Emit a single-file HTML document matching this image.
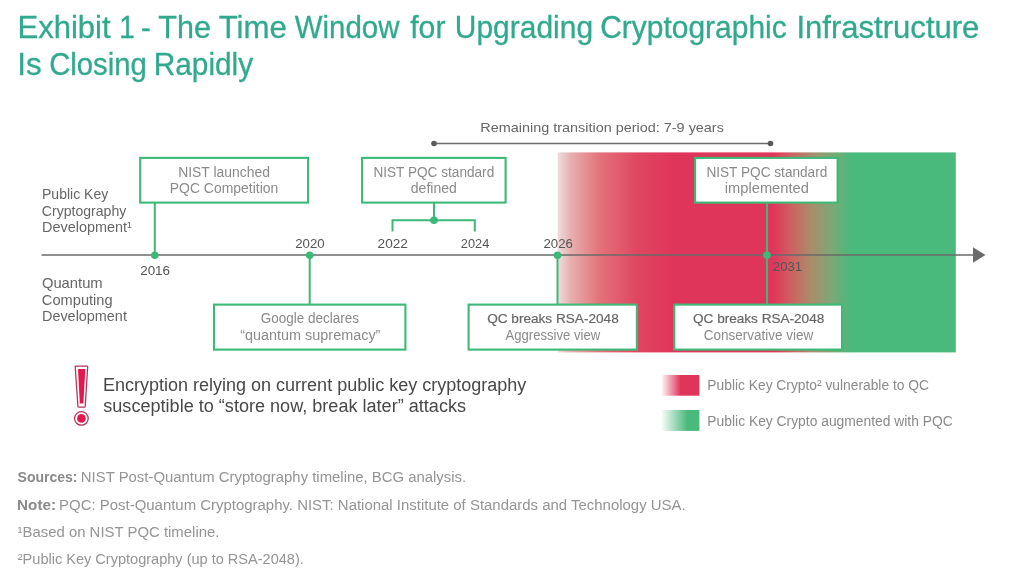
<!DOCTYPE html>
<html lang="en">
<head>
<meta charset="utf-8">
<title>Exhibit 1 - The Time Window for Upgrading Cryptographic Infrastructure Is Closing Rapidly</title>
<style>
html,body{margin:0;padding:0;background:#fff;}
body{width:1024px;height:582px;overflow:hidden;font-family:"Liberation Sans",sans-serif;}
svg{display:block;}
text{font-family:"Liberation Sans",sans-serif;}
.t{font-size:31.2px;fill:#30A98C;stroke:#30A98C;stroke-width:.3px;}
.l{font-size:13.8px;fill:#8a8a8a;}
.m{font-size:14.4px;fill:#666;}
.m2{font-size:13.6px;fill:#666;}
.y{font-size:13.3px;fill:#555;}
.b{font-size:13.6px;fill:#666;stroke:#666;stroke-width:.2px;}
.e{font-size:18px;fill:#484848;}
.f{font-size:14.7px;fill:#949494;}
.fb{font-weight:bold;fill:#8a8a8a;}

</style>
</head>
<body>
<svg width="1024" height="582" viewBox="0 0 1024 582">
<defs>
<linearGradient id="band" x1="0" y1="0" x2="1" y2="0">
<stop offset="0" stop-color="#ECDEDE"/>
<stop offset="0.032" stop-color="#E8B0B0"/>
<stop offset="0.107" stop-color="#E27279"/>
<stop offset="0.2" stop-color="#E04661"/>
<stop offset="0.29" stop-color="#E0355A"/>
<stop offset="0.541" stop-color="#E0355A"/>
<stop offset="0.59" stop-color="#CC6462"/>
<stop offset="0.639" stop-color="#A88E6C"/>
<stop offset="0.688" stop-color="#7CA876"/>
<stop offset="0.737" stop-color="#4AB97C"/>
<stop offset="1" stop-color="#4AB97C"/>
</linearGradient>
<linearGradient id="lr" x1="0" y1="0" x2="1" y2="0">
<stop offset="0" stop-color="#E0355A" stop-opacity="0.05"/>
<stop offset="0.5" stop-color="#E0355A"/>
<stop offset="1" stop-color="#E0355A"/>
</linearGradient>
<linearGradient id="lg" x1="0" y1="0" x2="1" y2="0">
<stop offset="0" stop-color="#4AB97C" stop-opacity="0.05"/>
<stop offset="0.68" stop-color="#4AB97C"/>
<stop offset="1" stop-color="#4AB97C"/>
</linearGradient>
</defs>

<!-- gradient band -->
<rect x="557.7" y="152.4" width="398.1" height="200" fill="url(#band)"/>

<!-- transition period -->
<line x1="434" y1="143.5" x2="770.5" y2="143.5" stroke="#6b6b6b" stroke-width="1.5"/>
<circle cx="434" cy="143.5" r="2.8" fill="#5a5a5a"/>
<circle cx="770.5" cy="143.5" r="2.8" fill="#5a5a5a"/>

<!-- axis -->
<line x1="41.5" y1="255" x2="975" y2="255" stroke="#6a6a6a" stroke-width="1.4"/>
<polygon points="973,247.3 985.5,255 973,262.7" fill="#6a6a6a"/>

<!-- connectors -->
<g stroke="#3DB877" stroke-width="2" fill="none">
<line x1="154.8" y1="202.5" x2="154.8" y2="255"/>
<line x1="309.7" y1="255" x2="309.7" y2="305"/>
<line x1="434" y1="202" x2="434" y2="220.3"/>
<polyline points="392.5,231.5 392.5,220.3 474.8,220.3 474.8,231.5"/>
<line x1="557.5" y1="255" x2="557.5" y2="305"/>
<line x1="767" y1="202" x2="767" y2="305"/>
</g>
<g fill="#3DB877">
<circle cx="154.8" cy="255.3" r="3.8"/>
<circle cx="309.7" cy="255.3" r="3.8"/>
<circle cx="434" cy="220.3" r="3.8"/>
<circle cx="557.5" cy="255.3" r="3.8"/>
<circle cx="767" cy="255.3" r="3.8"/>
</g>

<!-- boxes -->
<g fill="#fff" stroke="#3DB877" stroke-width="2.1">
<rect x="140.2" y="157.9" width="167.9" height="44.7"/>
<rect x="362.1" y="157.9" width="143.5" height="44.7"/>
<rect x="695.1" y="157.9" width="142.5" height="44.7"/>
<rect x="214" y="304.6" width="191.4" height="45"/>
<rect x="468.6" y="304.6" width="168.3" height="45"/>
<rect x="674.3" y="304.6" width="167.7" height="45"/>
</g>

<!-- warning icon -->
<g>
<path d="M75.2,366.7 Q75.2,366 75.9,366 L87,366 Q87.7,366 87.7,366.7 L85.2,406.4 Q85.1,407.2 84.3,407.2 L78.8,407.2 Q78,407.2 77.9,406.4 Z" fill="#fff" stroke="#B23358" stroke-width="1.25"/>
<path d="M78,369 L85.3,369 L83.4,403.6 L79.8,403.6 Z" fill="#E5174F"/>
<circle cx="81.4" cy="418.4" r="6.8" fill="#fff" stroke="#B23358" stroke-width="1.25"/>
<circle cx="81.4" cy="418.4" r="4.3" fill="#E5174F"/>
</g>

<!-- legend -->
<rect x="661.8" y="375" width="37.6" height="20.7" fill="url(#lr)"/>
<rect x="661.8" y="410" width="37.6" height="20.9" fill="url(#lg)"/>

<!-- text -->
<text class="t" y="37.7"><tspan x="17.55" textLength="93.05" lengthAdjust="spacingAndGlyphs">Exhibit</tspan> <tspan x="119.20" textLength="15.62" lengthAdjust="spacingAndGlyphs">1</tspan> <tspan x="140.93" textLength="9.78" lengthAdjust="spacingAndGlyphs">-</tspan> <tspan x="158.24" textLength="52.66" lengthAdjust="spacingAndGlyphs">The</tspan> <tspan x="218.63" textLength="68.22" lengthAdjust="spacingAndGlyphs">Time</tspan> <tspan x="294.74" textLength="104.73" lengthAdjust="spacingAndGlyphs">Window</tspan> <tspan x="410.24" textLength="35.23" lengthAdjust="spacingAndGlyphs">for</tspan> <tspan x="454.84" textLength="138.22" lengthAdjust="spacingAndGlyphs">Upgrading</tspan> <tspan x="600.22" textLength="186.47" lengthAdjust="spacingAndGlyphs">Cryptographic</tspan> <tspan x="796.48" textLength="182.92" lengthAdjust="spacingAndGlyphs">Infrastructure</tspan></text>
<text class="t" y="74.6"><tspan x="17.25" textLength="24.45" lengthAdjust="spacingAndGlyphs">Is</tspan> <tspan x="49.15" textLength="97.62" lengthAdjust="spacingAndGlyphs">Closing</tspan> <tspan x="153.75" textLength="99.35" lengthAdjust="spacingAndGlyphs">Rapidly</tspan></text>
<text class="m2" x="480.35" y="132" textLength="243.54" lengthAdjust="spacingAndGlyphs">Remaining transition period: 7-9 years</text>
<text class="l" x="178.17" y="176.9" textLength="91.86" lengthAdjust="spacingAndGlyphs">NIST launched</text>
<text class="l" x="169.77" y="192.8" textLength="108.51" lengthAdjust="spacingAndGlyphs">PQC Competition</text>
<text class="l" x="373.38" y="176.9" textLength="120.85" lengthAdjust="spacingAndGlyphs">NIST PQC standard</text>
<text class="l" x="410.81" y="192.8" textLength="46.07" lengthAdjust="spacingAndGlyphs">defined</text>
<text class="l" x="706.38" y="176.9" textLength="120.95" lengthAdjust="spacingAndGlyphs">NIST PQC standard</text>
<text class="l" x="724.87" y="192.8" textLength="83.96" lengthAdjust="spacingAndGlyphs">implemented</text>
<text class="l" x="260.81" y="323.4" textLength="98.22" lengthAdjust="spacingAndGlyphs">Google declares</text>
<text class="l" x="240.20" y="340" textLength="140.21" lengthAdjust="spacingAndGlyphs">“quantum supremacy”</text>
<text class="b" x="487.15" y="323" textLength="131.60" lengthAdjust="spacingAndGlyphs">QC breaks RSA-2048</text>
<text class="l" x="505.59" y="339.6" textLength="94.56" lengthAdjust="spacingAndGlyphs">Aggressive view</text>
<text class="b" x="693.05" y="323" textLength="131.19" lengthAdjust="spacingAndGlyphs">QC breaks RSA-2048</text>
<text class="l" x="703.70" y="339.6" textLength="109.58" lengthAdjust="spacingAndGlyphs">Conservative view</text>
<text class="m" x="42.03" y="199" textLength="66.22" lengthAdjust="spacingAndGlyphs">Public Key</text>
<text class="m" x="41.87" y="215.5" textLength="84.43" lengthAdjust="spacingAndGlyphs">Cryptography</text>
<text class="m" x="42.01" y="232" textLength="89.84" lengthAdjust="spacingAndGlyphs">Development¹</text>
<text class="m" x="41.91" y="287.6" textLength="60.78" lengthAdjust="spacingAndGlyphs">Quantum</text>
<text class="m" x="41.86" y="304.6" textLength="70.75" lengthAdjust="spacingAndGlyphs">Computing</text>
<text class="m" x="42.01" y="320.7" textLength="84.89" lengthAdjust="spacingAndGlyphs">Development</text>
<text class="y" x="140.17" y="275.3" textLength="29.95" lengthAdjust="spacingAndGlyphs">2016</text>
<text class="y" x="295.27" y="247.5" textLength="29.41" lengthAdjust="spacingAndGlyphs">2020</text>
<text class="y" x="377.56" y="247.5" textLength="30.37" lengthAdjust="spacingAndGlyphs">2022</text>
<text class="y" x="460.87" y="247.5" textLength="28.53" lengthAdjust="spacingAndGlyphs">2024</text>
<text class="y" x="543.47" y="247.5" textLength="29.35" lengthAdjust="spacingAndGlyphs">2026</text>
<text class="y" x="772.87" y="271" textLength="29.23" lengthAdjust="spacingAndGlyphs">2031</text>
<text class="e" x="103.00" y="391.2" textLength="423.25" lengthAdjust="spacingAndGlyphs">Encryption relying on current public key cryptography</text>
<text class="e" x="103.27" y="412.1" textLength="362.73" lengthAdjust="spacingAndGlyphs">susceptible to “store now, break later” attacks</text>
<text class="l" x="707.37" y="390.4" textLength="221.58" lengthAdjust="spacingAndGlyphs">Public Key Crypto² vulnerable to QC</text>
<text class="l" x="707.37" y="425.6" textLength="245.40" lengthAdjust="spacingAndGlyphs">Public Key Crypto augmented with PQC</text>
<text class="f" y="482.3"><tspan class="fb" x="17.58" textLength="59.95" lengthAdjust="spacingAndGlyphs">Sources:</tspan> <tspan x="80.88" textLength="385.22" lengthAdjust="spacingAndGlyphs">NIST Post-Quantum Cryptography timeline, BCG analysis.</tspan></text>
<text class="f" y="509.6"><tspan class="fb" x="17.10" textLength="38.88" lengthAdjust="spacingAndGlyphs">Note:</tspan> <tspan x="59.08" textLength="626.57" lengthAdjust="spacingAndGlyphs">PQC: Post-Quantum Cryptography. NIST: National Institute of Standards and Technology USA.</tspan></text>
<text class="f" x="17.53" y="536.7" textLength="201.90" lengthAdjust="spacingAndGlyphs">¹Based on NIST PQC timeline.</text>
<text class="f" x="17.79" y="563.8" textLength="286.06" lengthAdjust="spacingAndGlyphs">²Public Key Cryptography (up to RSA-2048).</text>
</svg>
</body>
</html>
